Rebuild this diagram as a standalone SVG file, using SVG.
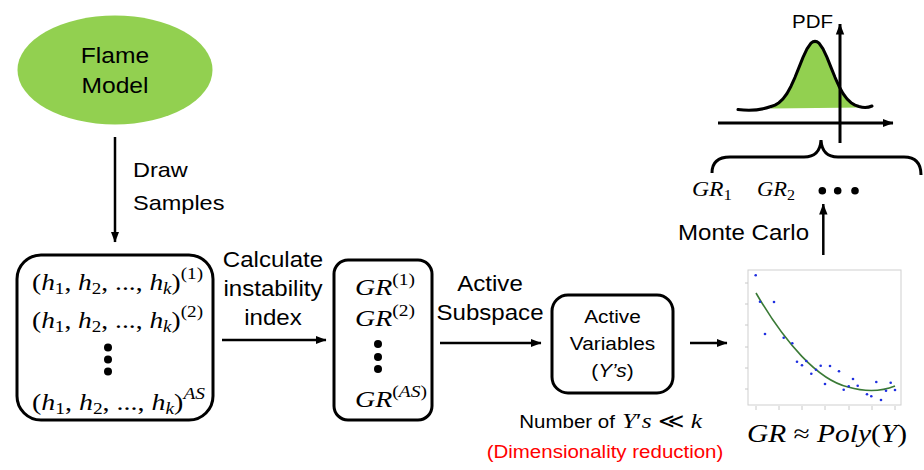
<svg xmlns="http://www.w3.org/2000/svg" width="924" height="470" viewBox="0 0 924 470">
<style>
.s{font-family:"Liberation Sans",Arial,sans-serif;fill:#000;text-anchor:middle}
.st{text-anchor:start}
.m{font-family:"Liberation Serif","Times New Roman",serif;fill:#000}
.i{font-style:italic}
.box{fill:#fff;stroke:#000;stroke-width:3}
.ln{fill:none;stroke:#000;stroke-width:2.5}
.ax{fill:none;stroke:#000;stroke-width:3}
.dot{fill:#000}
.pt{fill:#1f2fe0}
.tk{stroke:#c8c8c8;stroke-width:1}
</style>
<defs>
<marker id="ah" markerUnits="userSpaceOnUse" markerWidth="11" markerHeight="10" viewBox="0 0 11 10" refX="10.5" refY="5" orient="auto">
<path d="M0,0.8 L11,5 L0,9.2 z" fill="#000"/>
</marker>
</defs>
<rect width="924" height="470" fill="#fff"/>

<g id="flame-model">
<ellipse cx="115" cy="70" rx="97.5" ry="54.5" fill="#92D050"/>
<text class="s" font-size="22" transform="translate(115,63) scale(1.12,1)">Flame</text>
<text class="s" font-size="22" transform="translate(115,93) scale(1.12,1)">Model</text>
</g>

<g id="samples">
<rect class="box" x="17" y="255" width="196" height="165" rx="24"/>
<text class="m" font-size="23" x="32" y="290" textLength="171" lengthAdjust="spacingAndGlyphs">(<tspan class="i">h</tspan><tspan font-size="16" dy="4">1</tspan><tspan dy="-4">, </tspan><tspan class="i">h</tspan><tspan font-size="16" dy="4">2</tspan><tspan dy="-4">, ..., </tspan><tspan class="i">h</tspan><tspan class="i" font-size="16" dy="4">k</tspan><tspan dy="-4">)</tspan><tspan font-size="16" dy="-11">(1)</tspan></text>
<text class="m" font-size="23" x="32" y="328" textLength="171" lengthAdjust="spacingAndGlyphs">(<tspan class="i">h</tspan><tspan font-size="16" dy="4">1</tspan><tspan dy="-4">, </tspan><tspan class="i">h</tspan><tspan font-size="16" dy="4">2</tspan><tspan dy="-4">, ..., </tspan><tspan class="i">h</tspan><tspan class="i" font-size="16" dy="4">k</tspan><tspan dy="-4">)</tspan><tspan font-size="16" dy="-11">(2)</tspan></text>
<circle class="dot" cx="108" cy="347.5" r="4"/>
<circle class="dot" cx="108" cy="359.5" r="4"/>
<circle class="dot" cx="108" cy="371.5" r="4"/>
<text class="m" font-size="23" x="32" y="410" textLength="173" lengthAdjust="spacingAndGlyphs">(<tspan class="i">h</tspan><tspan font-size="16" dy="4">1</tspan><tspan dy="-4">, </tspan><tspan class="i">h</tspan><tspan font-size="16" dy="4">2</tspan><tspan dy="-4">, ..., </tspan><tspan class="i">h</tspan><tspan class="i" font-size="16" dy="4">k</tspan><tspan dy="-4">)</tspan><tspan class="i" font-size="16" dy="-11">AS</tspan></text>
</g>

<g id="growth-rates">
<rect class="box" x="334" y="260" width="98" height="160" rx="14"/>
<text class="m" font-size="23" x="355" y="295" textLength="60" lengthAdjust="spacingAndGlyphs"><tspan class="i">GR</tspan><tspan font-size="16" dy="-10">(1)</tspan></text>
<text class="m" font-size="23" x="355" y="326" textLength="60" lengthAdjust="spacingAndGlyphs"><tspan class="i">GR</tspan><tspan font-size="16" dy="-10">(2)</tspan></text>
<circle class="dot" cx="378" cy="344" r="4"/>
<circle class="dot" cx="378" cy="357" r="4"/>
<circle class="dot" cx="378" cy="369" r="4"/>
<text class="m" font-size="23" x="355" y="407" textLength="72" lengthAdjust="spacingAndGlyphs"><tspan class="i">GR</tspan><tspan font-size="16" dy="-10">(</tspan><tspan class="i" font-size="16">AS</tspan><tspan font-size="16">)</tspan></text>
</g>

<g id="active-variables">
<rect class="box" x="552" y="295" width="121" height="98" rx="16"/>
<text class="s" font-size="18.6" transform="translate(612.5,323) scale(1.12,1)">Active</text>
<text class="s" font-size="18.6" transform="translate(612.5,350) scale(1.12,1)">Variables</text>
<text class="s" font-size="18.6" transform="translate(612.5,377) scale(1.12,1)">(<tspan font-style="italic">Y’s</tspan>)</text>
<text class="s st" font-size="18.3" transform="translate(519.3,428) scale(1.12,1)">Number of</text>
<text class="m" font-size="21" x="622" y="428" textLength="80" lengthAdjust="spacingAndGlyphs"><tspan class="i">Y</tspan>′<tspan class="i">s</tspan> ≪ <tspan class="i">k</tspan></text>
<text class="s" font-size="18.3" fill="#ff0000" style="fill:#ff0000" transform="translate(605,458) scale(1.12,1)">(Dimensionality reduction)</text>
</g>

<g id="polynomial-fit">
<rect x="748" y="270" width="153" height="135" fill="#fff" stroke="#cfcfcf" stroke-width="1"/>
<g class="tk">
<line x1="745" y1="283" x2="748" y2="283"/><line x1="745" y1="304" x2="748" y2="304"/><line x1="745" y1="325" x2="748" y2="325"/><line x1="745" y1="347" x2="748" y2="347"/><line x1="745" y1="368" x2="748" y2="368"/><line x1="745" y1="389" x2="748" y2="389"/>
<line x1="756" y1="406" x2="756" y2="410"/><line x1="779" y1="406" x2="779" y2="410"/><line x1="802" y1="406" x2="802" y2="410"/><line x1="825" y1="406" x2="825" y2="410"/><line x1="849" y1="406" x2="849" y2="410"/><line x1="872" y1="406" x2="872" y2="410"/><line x1="895" y1="406" x2="895" y2="410"/>
</g>
<path d="M756,293 C785,343 818,380 848,387 C862,391 880,392 895,386" fill="none" stroke="#3a7a36" stroke-width="1.6"/>
<g class="pt">
<circle cx="755.7" cy="275.3" r="1.3"/><circle cx="760" cy="301.7" r="1.3"/><circle cx="765" cy="334" r="1.3"/><circle cx="774" cy="302" r="1.3"/><circle cx="783.7" cy="337.7" r="1.3"/><circle cx="792.3" cy="343.3" r="1.3"/><circle cx="797" cy="361.7" r="1.3"/><circle cx="802" cy="365.3" r="1.3"/><circle cx="806.3" cy="361" r="1.3"/><circle cx="811.3" cy="373.7" r="1.3"/><circle cx="816" cy="369.7" r="1.3"/><circle cx="820.7" cy="365.7" r="1.3"/><circle cx="825" cy="384" r="1.3"/><circle cx="830" cy="366" r="1.3"/><circle cx="839" cy="371.3" r="1.3"/><circle cx="843.7" cy="389.7" r="1.3"/><circle cx="848.7" cy="386.3" r="1.3"/><circle cx="853" cy="379" r="1.3"/><circle cx="857.7" cy="385.7" r="1.3"/><circle cx="867" cy="394.3" r="1.3"/><circle cx="871.3" cy="396.3" r="1.3"/><circle cx="876.3" cy="382" r="1.3"/><circle cx="881" cy="400" r="1.3"/><circle cx="886" cy="390.7" r="1.3"/><circle cx="890.7" cy="382.7" r="1.3"/><circle cx="895" cy="390" r="1.3"/>
</g>
<text class="m" font-size="25" x="747" y="442" textLength="160" lengthAdjust="spacingAndGlyphs"><tspan class="i">GR</tspan> ≈ <tspan class="i">Poly</tspan>(<tspan class="i">Y</tspan>)</text>
</g>

<g id="monte-carlo-samples">
<path d="M712,173 Q712,157 730,157 L804,157 Q820,157 821,140 Q822,157 838,157 L904,157 Q921,157 921,175" class="ax"/>
<text class="m" font-size="21" x="692" y="196" textLength="40" lengthAdjust="spacingAndGlyphs"><tspan class="i">GR</tspan><tspan font-size="15" dy="4">1</tspan></text>
<text class="m" font-size="21" x="757" y="196" textLength="38" lengthAdjust="spacingAndGlyphs"><tspan class="i">GR</tspan><tspan font-size="15" dy="4">2</tspan></text>
<circle class="dot" cx="822.3" cy="190.7" r="3.8"/>
<circle class="dot" cx="837.7" cy="190.7" r="3.8"/>
<circle class="dot" cx="855" cy="190.7" r="3.8"/>
</g>

<g id="pdf">
<polygon fill="#92D050" points="771,108.5 771,106.5 775,105.1 779,102.7 783,98.9 787,93.5 791,86.2 795,77.3 799,67.4 803,57.4 807,48.9 811,43.1 815,41 819,43.1 823,48.9 827,57.4 831,67.4 835,77.3 839,86.2 843,93.5 847,98.9 851,102.7 855,105.1 859,106.5 863,107.3 863,107.5"/>
<path d="M738,109.5 Q756,112 771,106.5 L775,105.1 L779,102.7 L783,98.9 L787,93.5 L791,86.2 L795,77.3 L799,67.4 L803,57.4 L807,48.9 L811,43.1 Q815,39.6 819,43.1 L823,48.9 L827,57.4 L831,67.4 L835,77.3 L839,86.2 L843,93.5 L847,98.9 L851,102.7 L855,105.1 L859,106.5 Q866,108.6 872,106" fill="none" stroke="#000" stroke-width="3" stroke-linejoin="round" stroke-linecap="round"/>
<line class="ax" x1="718" y1="123" x2="893" y2="123" marker-end="url(#ah)"/>
<line class="ax" x1="840" y1="143" x2="840" y2="24" marker-end="url(#ah)"/>
<text class="s st" font-size="18.3" transform="translate(792,28) scale(1.12,1)">PDF</text>
</g>

<g id="connectors">
<line class="ln" x1="115" y1="137" x2="115" y2="242" marker-end="url(#ah)"/>
<line class="ln" x1="222" y1="340" x2="326" y2="340" marker-end="url(#ah)"/>
<line class="ln" x1="440" y1="343" x2="541" y2="343" marker-end="url(#ah)"/>
<line class="ln" x1="690" y1="343" x2="727" y2="343" marker-end="url(#ah)"/>
<line class="ln" x1="823.3" y1="255" x2="823.3" y2="204" marker-end="url(#ah)"/>
</g>

<g id="connector-labels">
<text class="s st" font-size="21" transform="translate(133,177) scale(1.12,1)">Draw</text>
<text class="s st" font-size="21" transform="translate(133,210) scale(1.12,1)">Samples</text>
<text class="s" font-size="21.5" transform="translate(273,267) scale(1.12,1)">Calculate</text>
<text class="s" font-size="21.5" transform="translate(273,296) scale(1.12,1)">instability</text>
<text class="s" font-size="21.5" transform="translate(273,325) scale(1.12,1)">index</text>
<text class="s" font-size="21.5" transform="translate(490,290.5) scale(1.12,1)">Active</text>
<text class="s" font-size="21.5" transform="translate(490,319.5) scale(1.12,1)">Subspace</text>
<text class="s st" font-size="21.5" transform="translate(678,240) scale(1.12,1)">Monte Carlo</text>
</g>
</svg>
